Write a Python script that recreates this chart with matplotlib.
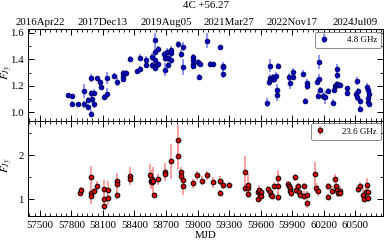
import matplotlib
matplotlib.use("Agg")
import matplotlib.pyplot as plt
from matplotlib.ticker import MultipleLocator

plt.rcParams['font.family'] = ['Liberation Serif', 'DejaVu Serif']
plt.rcParams['mathtext.fontset'] = 'stix'

title = "4C +56.27"
label_48 = "4.8 GHz"
label_236 = "23.6 GHz"

# 4.8 GHz series
mjd_48 = [57770, 57805, 57805, 57866, 57923, 57923, 57955, 57961, 57986, 57986,
          57986, 57993, 58018, 58018, 58047, 58075, 58081, 58113, 58142, 58142,
          58202, 58234, 58294, 58294, 58294, 58323, 58354, 58421, 58450, 58450,
          58510, 58510, 58570, 58570, 58599, 58599, 58599, 58599, 58599, 58627,
          58627, 58685, 58691, 58691, 58713, 58720, 58720, 58748, 58748, 58748,
          58815, 58840, 58866, 58866, 58958, 58958, 58958, 58958, 59008, 59012,
          59028, 59091, 59116, 59145, 59215, 59243, 59243, 59243,
          59665, 59678, 59691, 59694, 59707, 59716, 59729, 59751, 59754, 59754,
          59770, 59875, 59885, 59907, 59907, 60008, 60024, 60043, 60043, 60135,
          60145, 60158, 60161, 60170, 60199, 60215, 60240, 60294, 60300, 60310,
          60323, 60329, 60332, 60332, 60342, 60354, 60424, 60424, 60510, 60520,
          60523, 60532, 60545, 60551, 60618, 60621, 60621, 60628, 60631, 60631]
flux_48 = [1.128, 1.121, 1.065, 1.060, 1.161, 1.060, 1.093, 1.040, 1.257, 1.143,
           0.989, 1.100, 1.148, 1.065, 1.257, 1.227, 1.191, 1.116, 1.257, 1.141,
           1.275, 1.232, 1.297, 1.277, 1.254, 1.297, 1.403, 1.313, 1.414, 1.330,
           1.396, 1.355, 1.421, 1.355, 1.545, 1.459, 1.396, 1.350, 1.338, 1.479,
           1.363, 1.439, 1.408, 1.323, 1.459, 1.408, 1.358, 1.472, 1.446, 1.398,
           1.515, 1.439, 1.497, 1.343, 1.416, 1.398, 1.366, 1.353, 1.378, 1.267,
           1.368, 1.542, 1.366, 1.363, 1.492, 1.353, 1.340, 1.287,
           1.073, 1.227, 1.353, 1.257, 1.252, 1.265, 1.252, 1.277, 1.169, 1.131,
           1.350, 1.270, 1.222, 1.307, 1.270, 1.292, 1.085, 1.224, 1.196, 1.232,
           1.126, 1.381, 1.252, 1.169, 1.123, 1.113, 1.161, 1.073, 1.169, 1.199,
           1.206, 1.330, 1.282, 1.214, 1.206, 1.206, 1.181, 1.146, 1.136, 1.237,
           1.113, 1.161, 1.085, 1.027, 1.189, 1.171, 1.111, 1.080, 1.136, 1.065]
err_48 = [0.015, 0.015, 0.018, 0.015, 0.055, 0.025, 0.020, 0.025, 0.030, 0.025,
          0.025, 0.030, 0.025, 0.035, 0.018, 0.025, 0.020, 0.025, 0.045, 0.040,
          0.025, 0.035, 0.020, 0.020, 0.025, 0.020, 0.020, 0.018, 0.025, 0.020,
          0.030, 0.020, 0.030, 0.025, 0.055, 0.025, 0.035, 0.030, 0.025, 0.025,
          0.025, 0.025, 0.030, 0.050, 0.030, 0.025, 0.025, 0.030, 0.025, 0.030,
          0.025, 0.030, 0.035, 0.060, 0.025, 0.025, 0.025, 0.025, 0.025, 0.020,
          0.020, 0.055, 0.020, 0.020, 0.020, 0.025, 0.025, 0.030,
          0.035, 0.030, 0.050, 0.030, 0.025, 0.025, 0.030, 0.025, 0.045, 0.045,
          0.025, 0.030, 0.045, 0.030, 0.025, 0.025, 0.025, 0.030, 0.025, 0.025,
          0.025, 0.050, 0.035, 0.025, 0.030, 0.050, 0.020, 0.025, 0.025, 0.025,
          0.020, 0.035, 0.030, 0.025, 0.020, 0.020, 0.020, 0.020, 0.025, 0.030,
          0.025, 0.025, 0.025, 0.025, 0.030, 0.025, 0.025, 0.025, 0.025, 0.025]

# 23.6 GHz series
mjd_236 = [57881, 57894, 57983, 57983, 57983, 58018, 58040, 58110, 58110, 58113,
           58145, 58145, 58234, 58234, 58234, 58354, 58354, 58548, 58554, 58564,
           58570, 58573, 58589, 58627, 58688, 58688, 58748, 58815, 58815, 58840,
           58840, 58862, 58866, 58961, 58996, 59047, 59094, 59145, 59212, 59212,
           59243, 59300, 59453, 59453, 59478, 59485, 59485, 59573, 59573, 59586,
           59596, 59605, 59605, 59675, 59688, 59700, 59713, 59726, 59764, 59764,
           59764, 59866, 59872, 59878, 59885, 59891, 59929, 59935, 59961, 59967,
           59973, 60012, 60018, 60040, 60043, 60120, 60126, 60145, 60240, 60240,
           60278, 60310, 60316, 60329, 60342, 60354, 60361, 60532, 60548, 60580,
           60589, 60605, 60615, 60621, 60621]
flux_236 = [1.13, 1.21, 1.49, 1.14, 1.07, 1.19, 1.30, 1.23, 1.00, 0.84,
            1.21, 1.02, 1.40, 1.34, 1.10, 1.52, 1.46, 1.55, 1.42, 1.45,
            1.38, 1.42, 1.10, 1.45, 1.61, 1.58, 1.86, 2.34, 1.97, 1.61,
            1.52, 1.43, 1.29, 1.36, 1.54, 1.42, 1.54, 1.38, 1.42, 1.14,
            1.33, 1.32, 1.62, 1.25, 1.24, 1.33, 1.11, 1.16, 1.01, 1.20,
            1.11, 1.16, 1.06, 1.22, 1.16, 1.10, 1.07, 1.29, 1.47, 1.29,
            1.05, 1.34, 1.29, 1.24, 1.19, 1.14, 1.49, 1.21, 1.29, 1.16,
            1.10, 1.30, 1.08, 1.10, 0.90, 1.57, 1.25, 1.19, 1.29, 1.05,
            1.19, 1.46, 1.30, 1.21, 1.13, 1.19, 1.14, 1.23, 1.29, 1.10,
            1.01, 1.15, 1.33, 1.17, 1.02]
err_236 = [0.06, 0.07, 0.25, 0.08, 0.18, 0.06, 0.12, 0.20, 0.15, 0.10,
           0.20, 0.15, 0.20, 0.12, 0.10, 0.20, 0.10, 0.25, 0.20, 0.20,
           0.15, 0.30, 0.05, 0.12, 0.20, 0.12, 0.40, 0.35, 0.30, 0.12,
           0.10, 0.15, 0.20, 0.10, 0.10, 0.10, 0.10, 0.12, 0.10, 0.06,
           0.10, 0.07, 0.35, 0.10, 0.10, 0.25, 0.08, 0.10, 0.06, 0.12,
           0.08, 0.10, 0.10, 0.08, 0.08, 0.06, 0.07, 0.08, 0.20, 0.30,
           0.10, 0.08, 0.10, 0.12, 0.10, 0.10, 0.08, 0.10, 0.08, 0.10,
           0.08, 0.06, 0.10, 0.08, 0.10, 0.28, 0.12, 0.12, 0.08, 0.06,
           0.10, 0.10, 0.15, 0.12, 0.08, 0.10, 0.08, 0.10, 0.10, 0.15,
           0.08, 0.10, 0.15, 0.10, 0.08]

# axis ticks
mjd_ticks = [57500, 57800, 58100, 58400, 58700, 59000, 59300, 59600, 59900, 60200, 60500]
date_ticks = [57500, 58100, 58700, 59300, 59900, 60500]
date_labels = ["2016Apr22", "2017Dec13", "2019Aug05", "2021Mar27", "2022Nov17", "2024Jul09"]

fig = plt.figure(figsize=(3.89, 2.43), dpi=100)
ax1 = fig.add_axes([0.0728, 0.502, 0.912, 0.377])
ax2 = fig.add_axes([0.0728, 0.111, 0.912, 0.391], sharex=ax1)

fs = 7.8
ax1.errorbar(mjd_48, flux_48, yerr=err_48, fmt='o', ms=3.4, mfc='#0000c0', mec='#00005a',
             mew=0.6, ecolor='#8080ff', elinewidth=1.2, capsize=0, label=label_48, zorder=3)
ax2.errorbar(mjd_236, flux_236, yerr=err_236, fmt='o', ms=3.4, mfc='#e00000', mec='black',
             mew=0.7, ecolor='#ff9090', elinewidth=1.2, capsize=0, label=label_236, zorder=3)

ax1.set_xlim(57389, 60767)
ax1.set_ylim(0.934, 1.627)
ax2.set_ylim(0.614, 2.773)

for ax in (ax1, ax2):
    ax.set_xticks(mjd_ticks)
    ax.xaxis.set_minor_locator(MultipleLocator(50))
    ax.tick_params(which='both', direction='in', top=True, right=True, labelsize=fs)
    ax.tick_params(which='major', length=4, width=0.7)
    ax.tick_params(which='minor', length=2, width=0.6)
    ax.set_ylabel(r'$F_{Jy}$', fontsize=8)
    ax.yaxis.set_label_coords(-0.037, 0.53)
    for s in ax.spines.values():
        s.set_linewidth(0.7)

ax1.yaxis.set_major_locator(MultipleLocator(0.2))
ax1.yaxis.set_minor_locator(MultipleLocator(0.1))
ax2.yaxis.set_major_locator(MultipleLocator(1))
ax2.yaxis.set_minor_locator(MultipleLocator(0.5))
ax1.tick_params(labelbottom=False)
ax1.yaxis.set_major_formatter(matplotlib.ticker.FormatStrFormatter('%.1f'))

sec = ax1.secondary_xaxis('top')
sec.set_xticks(date_ticks)
sec.set_xticklabels(date_labels)
sec.tick_params(length=0, labelsize=fs, pad=2)
sec.xaxis.set_minor_locator(matplotlib.ticker.NullLocator())

fig.text(0.0728 + 0.912 / 2, 1 - 5.5 / 243, title, ha='center', va='center', fontsize=fs)

ax2.set_xlabel('MJD', fontsize=fs, labelpad=1)

for ax in (ax1, ax2):
    leg = ax.legend(loc='upper right', fontsize=6.5, frameon=True, fancybox=True,
                    handlelength=1.0, borderaxespad=0.25, borderpad=0.45, handletextpad=2.0)
    leg.get_frame().set_edgecolor('#555555')
    leg.get_frame().set_linewidth(0.6)

fig.savefig('out.png', dpi=100)
